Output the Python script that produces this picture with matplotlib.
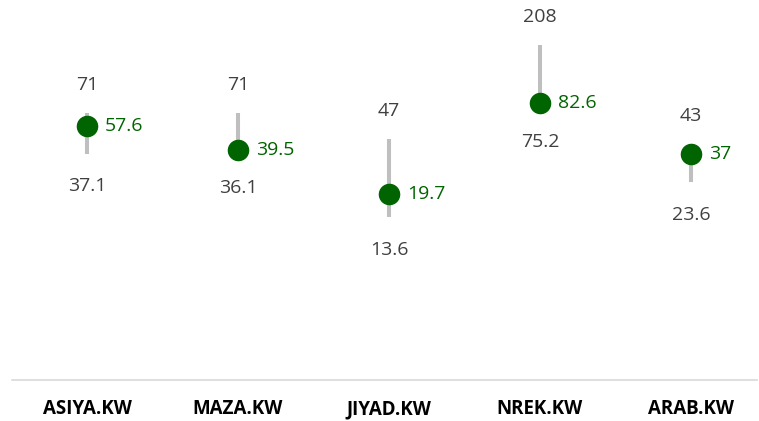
import numpy as np
import matplotlib.pyplot as plt

# ------------------------
# Data
# ------------------------
tickers = ["ASIYA.KW", "MAZA.KW", "JIYAD.KW", "NREK.KW", "ARAB.KW"]
high = [71, 71, 47, 208, 43]
low = [37.1, 36.1, 13.6, 75.2, 23.6]
current = [57.6, 39.5, 19.7, 82.6, 37]

plt.rcParams["font.family"] = ["Open Sans", "DejaVu Sans"]

W, H, DPI = 759, 421, 100
fig = plt.figure(figsize=(W / DPI, H / DPI), dpi=DPI)

# axes box in pixels
left_px, right_px, top_px, bottom_px = 12, 757, 0, 380
ax = fig.add_axes([left_px / W, 1 - bottom_px / H,
                   (right_px - left_px) / W, (bottom_px - top_px) / H])

x = np.arange(len(tickers))
px_per_unit = 151
ax.set_xlim(-(87 - left_px) / px_per_unit, 4 + (right_px - 691) / px_per_unit)
ax.set_yscale("log")
ymin = 1.03
ax.set_ylim(ymin, ymin * 10 ** (380 / 145.5))

# high-low lines and current dots
ax.vlines(x, low, high, color="#BFBFBF", linewidth=2.9, zorder=1)
ax.plot(x, current, "o", color="#006400", markersize=14.5, zorder=2)

grey = "#404040"
fs = 14
for i in range(len(tickers)):
    ax.annotate(f"{high[i]:g}", (x[i], high[i]), xytext=(0, 20),
                textcoords="offset points", ha="center", va="center",
                fontsize=fs, color=grey)
    ax.annotate(f"{low[i]:g}", (x[i], low[i]), xytext=(0, -23.5),
                textcoords="offset points", ha="center", va="center",
                fontsize=fs, color=grey)
    ax.annotate(f"{current[i]:g}", (x[i], current[i]), xytext=(13, 0),
                textcoords="offset points", ha="left", va="center",
                fontsize=fs, color="#006400")

for s in ["top", "left", "right"]:
    ax.spines[s].set_visible(False)
ax.spines["bottom"].set_color("#D9D9D9")
ax.spines["bottom"].set_linewidth(1.2)
ax.set_yticks([])
ax.yaxis.set_minor_locator(plt.NullLocator())
ax.set_xticks(x)
ax.set_xticklabels(tickers, fontsize=13.5, fontweight="bold", color="#000000")
ax.tick_params(axis="x", length=0, pad=14)

fig.savefig("out.png", dpi=DPI)
